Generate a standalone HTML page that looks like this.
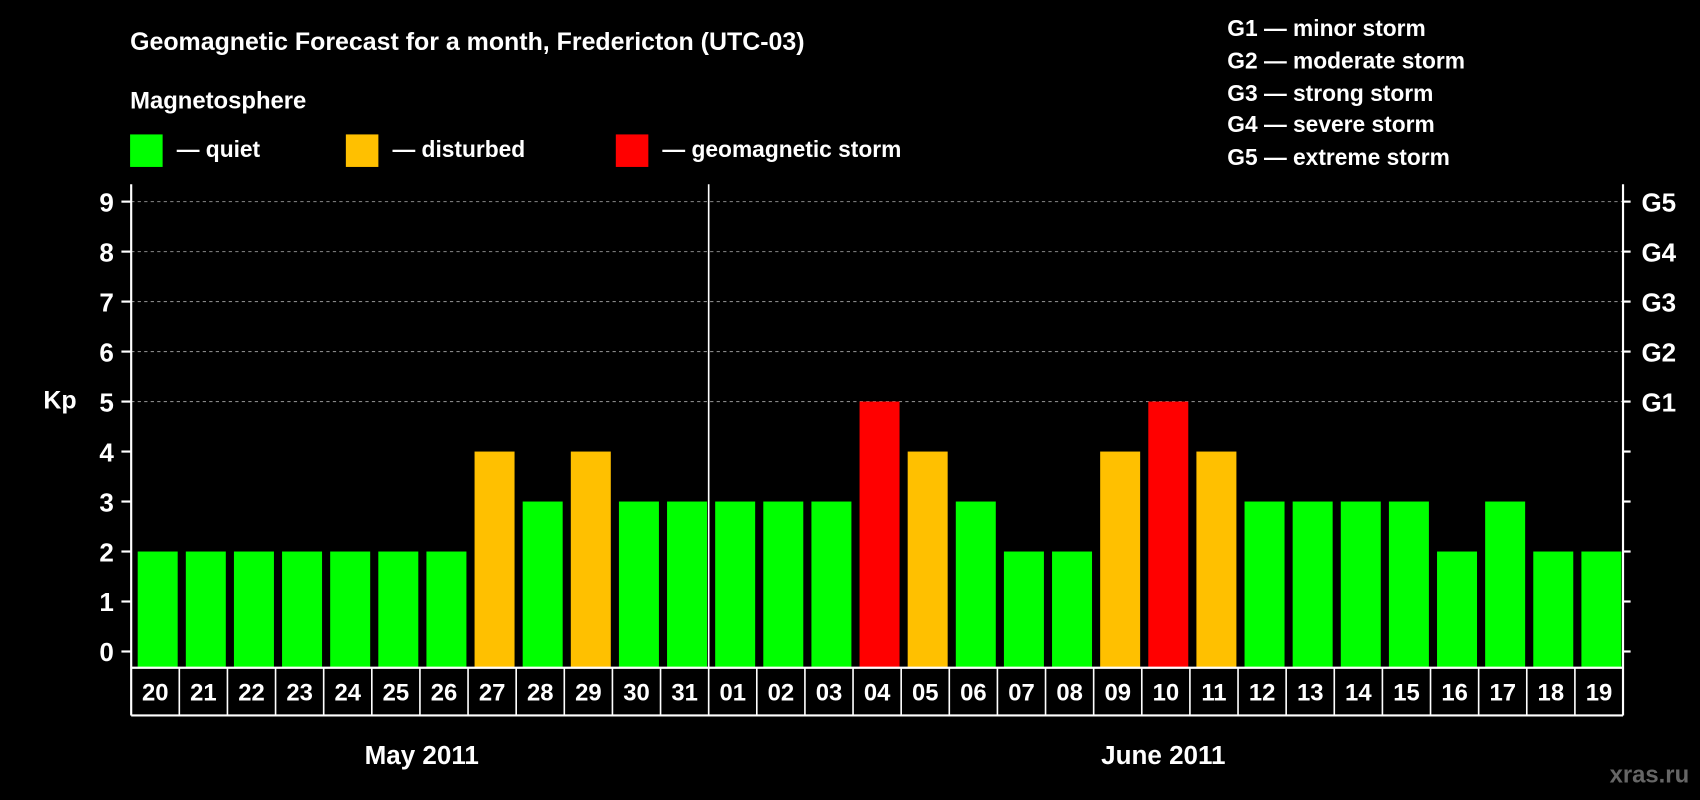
<!DOCTYPE html>
<html><head><meta charset="utf-8"><style>
html,body{margin:0;padding:0;background:#000;}
svg{display:block;}
text{font-family:"Liberation Sans",Arial,sans-serif;font-weight:bold;fill:#fff;}
</style></head><body>
<svg width="1700" height="800" viewBox="0 0 1568 738" preserveAspectRatio="none">
<rect x="0" y="0" width="1568" height="738" fill="#000"/>
<text x="120" y="46" font-size="23">Geomagnetic Forecast for a month, Fredericton (UTC-03)</text>
<text x="120" y="100" font-size="22">Magnetosphere</text>
<g><rect x="120" y="124" width="30" height="30" fill="#00ff00"/><text x="163" y="145" font-size="21">— quiet</text></g>
<g><rect x="319" y="124" width="30" height="30" fill="#ffc000"/><text x="362" y="145" font-size="21">— disturbed</text></g>
<g><rect x="568" y="124" width="30" height="30" fill="#ff0000"/><text x="611" y="145" font-size="21">— geomagnetic storm</text></g>
<g font-size="21">
<text x="1132" y="33">G1 — minor storm</text>
<text x="1132" y="63">G2 — moderate storm</text>
<text x="1132" y="93">G3 — strong storm</text>
<text x="1132" y="122">G4 — severe storm</text>
<text x="1132" y="152">G5 — extreme storm</text>
</g>
<text x="40" y="377" font-size="23">Kp</text>
<g id="chart"></g>
<text x="389" y="705" font-size="24" text-anchor="middle">May 2011</text>
<text x="1073" y="705" font-size="24" text-anchor="middle">June 2011</text>
<text x="1558" y="722" font-size="22" text-anchor="end" style="fill:#666">xras.ru</text>
</svg>
<script>
const days = ["20","21","22","23","24","25","26","27","28","29","30","31","01","02","03","04","05","06","07","08","09","10","11","12","13","14","15","16","17","18","19"].slice(0,30);
days.splice(0,0); 
const dayLabels = ["20","21","22","23","24","25","26","27","28","29","30","31","01","02","03","04","05","06","07","08","09","10","11","12","13","14","15","16","17","18","19"];
const kpValues = [2,2,2,2,2,2,2,4,3,4,3,3,3,3,3,5,4,3,2,2,4,5,4,3,3,3,3,2,3,2,2];
const yTicks = [0,1,2,3,4,5,6,7,8,9];
const gLabels = ["G1","G2","G3","G4","G5"];
const NS="http://www.w3.org/2000/svg";
const g=document.getElementById('chart');
const L=121,R=1497,TOP=170,BOT=616,ROWB=660;
const n=dayLabels.length, cw=(R-L)/n;
function y(v){return 601-v*(601-186)/9;}
function xc(i){return L+cw*i;}
function mk(t,a){const e=document.createElementNS(NS,t);for(const k in a)e.setAttribute(k,a[k]);g.appendChild(e);return e;}
function col(v){return v>=5?"#ff0000":v>=4?"#ffc000":"#00ff00";}
yTicks.forEach(v=>{
  if(v>=5){const gl=mk('line',{x1:L,x2:R,y1:y(v),y2:y(v),stroke:"#888","stroke-dasharray":"3,3","stroke-width":1});
  }
  const t1=mk('line',{x1:L-9,x2:L,y1:y(v),y2:y(v),stroke:"#fff","stroke-width":2});
  
  const t2=mk('line',{x1:R,x2:R+7,y1:y(v),y2:y(v),stroke:"#fff","stroke-width":2});
  
  const tl=mk('text',{x:105,y:y(v)+9,"font-size":24,"text-anchor":"end"});tl.textContent=v;
  
});
gLabels.forEach((s,i)=>{const t=mk('text',{x:1514,y:y(5+i)+9,"font-size":24});t.textContent=s;
  });
kpValues.forEach((v,i)=>{
  if(i>=n)return;
  const b=mk('rect',{x:xc(i)+6,y:y(v),width:cw-7.5,height:BOT-y(v),fill:col(v)});
  
});
// axes
[[L,TOP,L,ROWB],[R,TOP,R,ROWB],[L,BOT,R,BOT],[L,ROWB,R,ROWB]].forEach(a=>{
  const l=mk('line',{x1:a[0],y1:a[1],x2:a[2],y2:a[3],stroke:"#fff","stroke-width":2});
  });
const sep=mk('line',{x1:xc(12),y1:TOP,x2:xc(12),y2:ROWB,stroke:"#fff","stroke-width":1.5});

dayLabels.forEach((d,i)=>{
  if(i>=n)return;
  if(i>0&&i!==12){const l=mk('line',{x1:xc(i),y1:BOT,x2:xc(i),y2:ROWB,stroke:"#fff","stroke-width":1.5});
    }
  const t=mk('text',{x:xc(i)+cw/2,y:646,"font-size":22,"text-anchor":"middle"});t.textContent=d;
  
});
</script>
</body></html>
